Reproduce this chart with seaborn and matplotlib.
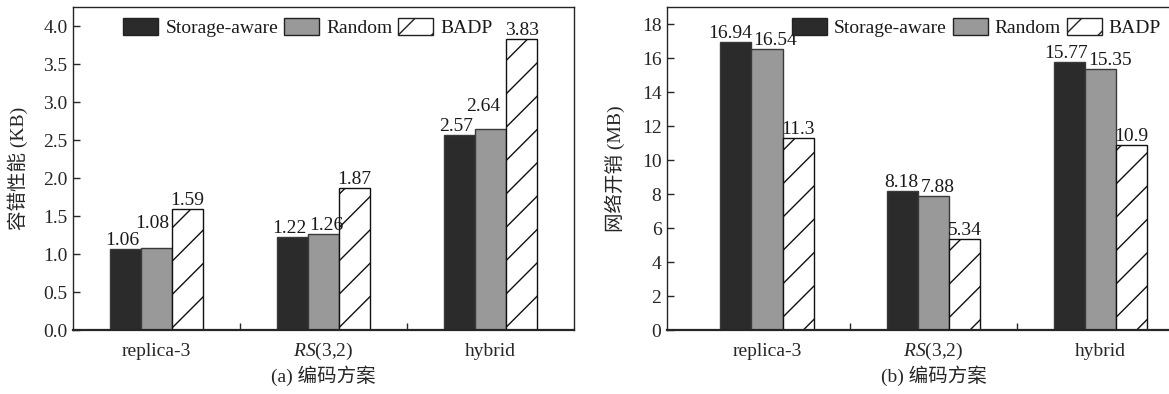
import matplotlib
matplotlib.use("Agg")
import matplotlib.pyplot as plt
from matplotlib.patches import Patch
from matplotlib.ticker import FixedLocator, MultipleLocator, FormatStrFormatter
import seaborn as sns
import pandas as pd

schemes = ["replica-3", "RS(3,2)", "hybrid"]
scheme_ticks = ["replica-3", r"$\mathit{RS}$(3,2)", "hybrid"]
methods = ["Storage-aware", "Random", "BADP"]

fault_kb = {"Storage-aware": [1.06, 1.22, 2.57],
            "Random": [1.08, 1.26, 2.64],
            "BADP": [1.59, 1.87, 3.83]}
net_mb = {"Storage-aware": [16.94, 8.18, 15.77],
          "Random": [16.54, 7.88, 15.35],
          "BADP": [11.3, 5.34, 10.9]}

colors = {"Storage-aware": "#2b2b2b", "Random": "#999999", "BADP": "white"}

# label nudges in pixels (dx, dy), per method, per scheme
nudge_a = {"Storage-aware": [(-3, 0), (-3, 0), (-3, 0)],
           "Random": [(-4, 16), (3, 0), (-7, 14)],
           "BADP": [(0, 0), (0, 0), (0, 0)]}
nudge_b = {"Storage-aware": [(-6, 0), (-1, 0), (-3, 0)],
           "Random": [(8, 0), (4, 0), (10, 0)],
           "BADP": [(0, 0), (0, 0), (0, 0)]}

FS = 14

sns.set_style("ticks")
plt.rcParams["font.family"] = ["Liberation Serif", "Noto Sans CJK SC"]
plt.rcParams["mathtext.fontset"] = "custom"
plt.rcParams["mathtext.it"] = "Liberation Serif:italic"
plt.rcParams["mathtext.rm"] = "Liberation Serif"
plt.rcParams["font.size"] = FS
plt.rcParams["hatch.linewidth"] = 1.0
plt.rcParams["text.color"] = "#1a1a1a"


def to_long(d):
    rows = []
    for m in methods:
        for s, v in zip(schemes, d[m]):
            rows.append({"scheme": s, "method": m, "value": v})
    return pd.DataFrame(rows)


def draw(ax, d, nudge, ylim, ystep, ylabel, xlabel, xlim, leg_x, ylabelpad):
    df = to_long(d)
    sns.barplot(data=df, x="scheme", y="value", hue="method", order=schemes,
                hue_order=methods, palette=colors, width=0.56, ax=ax,
                edgecolor="#3a3a3a", linewidth=1.0, legend=False)
    for m, cont in zip(methods, ax.containers):
        if m == "BADP":
            for p in cont:
                p.set_hatch("/")
                p.set_edgecolor("#111111")
        texts = ax.bar_label(cont, labels=["%g" % v for v in d[m]], padding=0, fontsize=FS)
        for t, (dx, dy) in zip(texts, nudge[m]):
            x0, y0 = t.xyann
            t.xyann = (x0 + dx * 0.72, y0 + dy * 0.72)
    ax.set_ylim(*ylim)
    ax.set_xlim(*xlim)
    ax.yaxis.set_major_locator(MultipleLocator(ystep))
    if ystep < 1:
        ax.yaxis.set_major_formatter(FormatStrFormatter("%.1f"))
    ax.set_xticks(range(3))
    ax.set_xticklabels(scheme_ticks)
    for lab in ax.get_xticklabels():
        lab.set_verticalalignment("baseline")
    ax.xaxis.set_minor_locator(FixedLocator([0.5, 1.5]))
    ax.tick_params(axis="x", which="major", length=0, pad=19, labelsize=FS)
    ax.tick_params(axis="x", which="minor", direction="in", length=5, width=1)
    ax.tick_params(axis="y", direction="in", length=5, width=1, labelsize=FS, pad=4)
    ax.set_ylabel(ylabel, fontsize=FS, labelpad=ylabelpad)
    ax.set_xlabel(xlabel, fontsize=FS, labelpad=2)
    for sp in ax.spines.values():
        sp.set_visible(True)
        sp.set_linewidth(1.0)
    ax.spines["bottom"].set_linewidth(1.6)
    handles = [Patch(facecolor=colors[m], edgecolor="#222222", hatch="/" if m == "BADP" else None)
               for m in methods]
    ax.legend(handles, methods, loc="upper left", bbox_to_anchor=(leg_x, 0.99), ncol=3,
              frameon=False, borderaxespad=0, handlelength=1.8, handleheight=0.95,
              handletextpad=0.36, columnspacing=0.3, fontsize=FS)


fig = plt.figure(figsize=(11.69, 3.94), dpi=100)
ax1 = fig.add_axes([0.0624, 0.1624, 0.4286, 0.8198])
ax2 = fig.add_axes([0.5706, 0.1624, 0.456, 0.8198])

draw(ax1, fault_kb, nudge_a, (0, 4.25), 0.5, "容错性能 (KB)", "(a) 编码方案", (-0.5, 2.5), 0.085, 11)
draw(ax2, net_mb, nudge_b, (0, 19), 2, "网络开销 (MB)", "(b) 编码方案", (-0.6, 2.6), 0.22, 12)

fig.savefig("out.png", dpi=100)
